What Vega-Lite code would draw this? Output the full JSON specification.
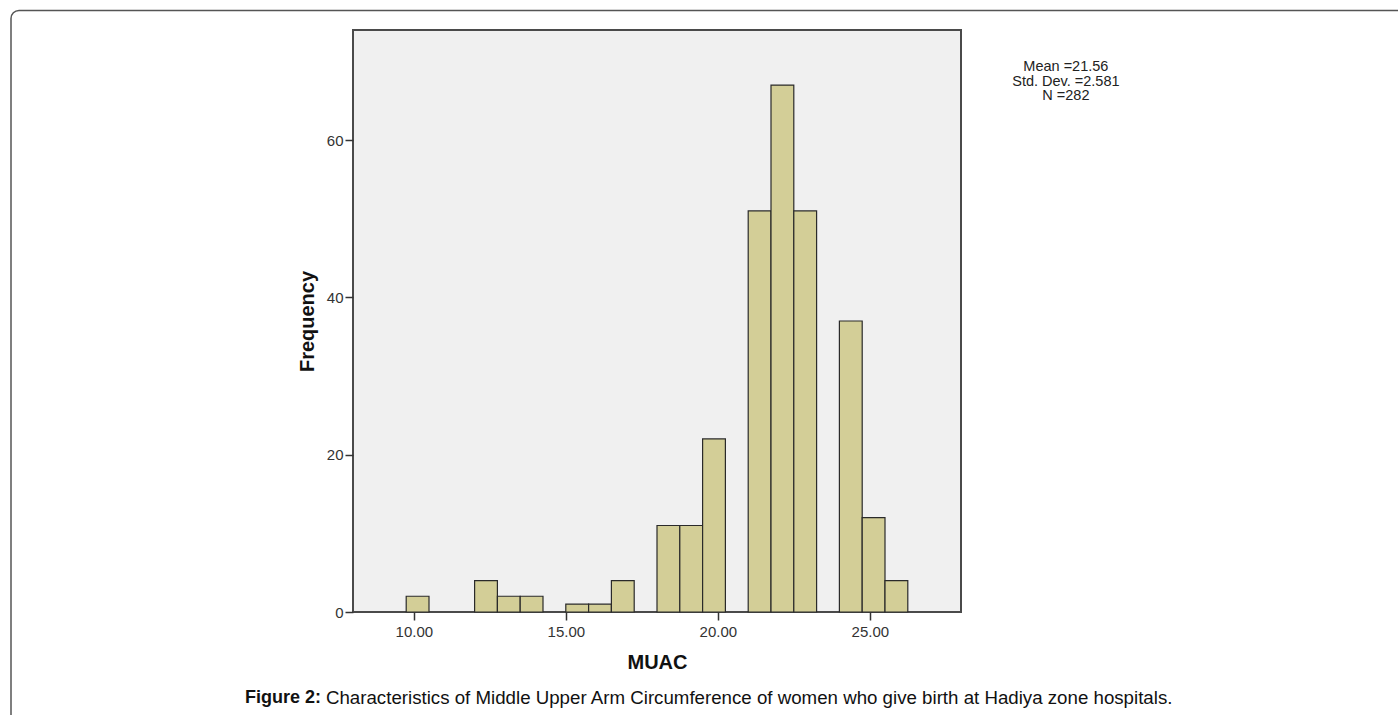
{
  "$schema": "https://vega.github.io/schema/vega-lite/v6.json",
  "width": 608,
  "height": 582,
  "autosize": {"type": "none"},
  "padding": {"left": 353, "top": 30, "right": 437, "bottom": 103},
  "background": "white",
  "config": {
    "font": "Liberation Sans",
    "view": {"fill": "#f0f0f0", "stroke": "#4a4a4a", "strokeWidth": 2}
  },
  "datasets": {
    "bins": [
      {"bin_start": 9.75, "bin_end": 10.5, "count": 2},
      {"bin_start": 12.0, "bin_end": 12.75, "count": 4},
      {"bin_start": 12.75, "bin_end": 13.5, "count": 2},
      {"bin_start": 13.5, "bin_end": 14.25, "count": 2},
      {"bin_start": 15.0, "bin_end": 15.75, "count": 1},
      {"bin_start": 15.75, "bin_end": 16.5, "count": 1},
      {"bin_start": 16.5, "bin_end": 17.25, "count": 4},
      {"bin_start": 18.0, "bin_end": 18.75, "count": 11},
      {"bin_start": 18.75, "bin_end": 19.5, "count": 11},
      {"bin_start": 19.5, "bin_end": 20.25, "count": 22},
      {"bin_start": 21.0, "bin_end": 21.75, "count": 51},
      {"bin_start": 21.75, "bin_end": 22.5, "count": 67},
      {"bin_start": 22.5, "bin_end": 23.25, "count": 51},
      {"bin_start": 24.0, "bin_end": 24.75, "count": 37},
      {"bin_start": 24.75, "bin_end": 25.5, "count": 12},
      {"bin_start": 25.5, "bin_end": 26.25, "count": 4}
    ],
    "stats": [
      {"x": 31.45, "y": 69.29, "label": "Mean =21.56\nStd. Dev. =2.581\nN =282"}
    ],
    "captionBold": [
      {"x": 4.45, "y": -10.95, "label": "Figure 2:"}
    ],
    "captionText": [
      {"x": 7.11, "y": -10.95, "label": "Characteristics of Middle Upper Arm Circumference of women who give birth at Hadiya zone hospitals."}
    ],
    "frame": [
      {"x": -3.25, "x2": 43.1, "y": 76.48, "y2": -14.37}
    ]
  },
  "layer": [
    {
      "data": {"name": "bins"},
      "mark": {"type": "bar", "fill": "#d3ce97", "stroke": "#2a2a2a", "strokeWidth": 1.2},
      "encoding": {
        "x": {
          "field": "bin_start", "type": "quantitative",
          "scale": {"domain": [8, 28], "nice": false, "zero": false},
          "title": "MUAC",
          "axis": {
            "values": [10, 15, 20, 25], "format": ".2f", "grid": false, "domain": false,
            "tickSize": 8, "tickColor": "#333", "tickWidth": 1.5,
            "labelFontSize": 15, "labelColor": "#333", "labelPadding": 4,
            "titleFontSize": 20, "titleFontWeight": "bold", "titleColor": "#111", "titlePadding": 13
          }
        },
        "x2": {"field": "bin_end"},
        "y": {
          "field": "count", "type": "quantitative",
          "scale": {"domain": [0, 74], "nice": false},
          "title": "Frequency",
          "axis": {
            "values": [0, 20, 40, 60], "grid": false, "domain": false,
            "tickSize": 8, "tickColor": "#333", "tickWidth": 1.5,
            "labelFontSize": 15, "labelColor": "#333", "labelPadding": 2,
            "titleFontSize": 20, "titleFontWeight": "bold", "titleColor": "#111", "titlePadding": 9
          }
        },
        "y2": {"datum": 0}
      }
    },
    {
      "data": {"name": "stats"},
      "mark": {"type": "text", "align": "center", "baseline": "middle", "fontSize": 14.5, "lineHeight": 14.5, "lineBreak": "\n", "color": "#222"},
      "encoding": {
        "x": {"field": "x", "type": "quantitative", "title": "MUAC"},
        "y": {"field": "y", "type": "quantitative", "title": "Frequency"},
        "text": {"field": "label"}
      }
    },
    {
      "data": {"name": "captionBold"},
      "mark": {"type": "text", "align": "left", "baseline": "middle", "fontSize": 18, "fontWeight": "bold", "color": "#111"},
      "encoding": {
        "x": {"field": "x", "type": "quantitative", "title": "MUAC"},
        "y": {"field": "y", "type": "quantitative", "title": "Frequency"},
        "text": {"field": "label"}
      }
    },
    {
      "data": {"name": "captionText"},
      "mark": {"type": "text", "align": "left", "baseline": "middle", "fontSize": 18.7, "color": "#111"},
      "encoding": {
        "x": {"field": "x", "type": "quantitative", "title": "MUAC"},
        "y": {"field": "y", "type": "quantitative", "title": "Frequency"},
        "text": {"field": "label"}
      }
    },
    {
      "data": {"name": "frame"},
      "mark": {"type": "rect", "fill": null, "stroke": "#555", "strokeWidth": 1.5, "cornerRadius": 8, "clip": false},
      "encoding": {
        "x": {"field": "x", "type": "quantitative", "title": "MUAC"},
        "x2": {"field": "x2"},
        "y": {"field": "y", "type": "quantitative", "title": "Frequency"},
        "y2": {"field": "y2"}
      }
    }
  ]
}
